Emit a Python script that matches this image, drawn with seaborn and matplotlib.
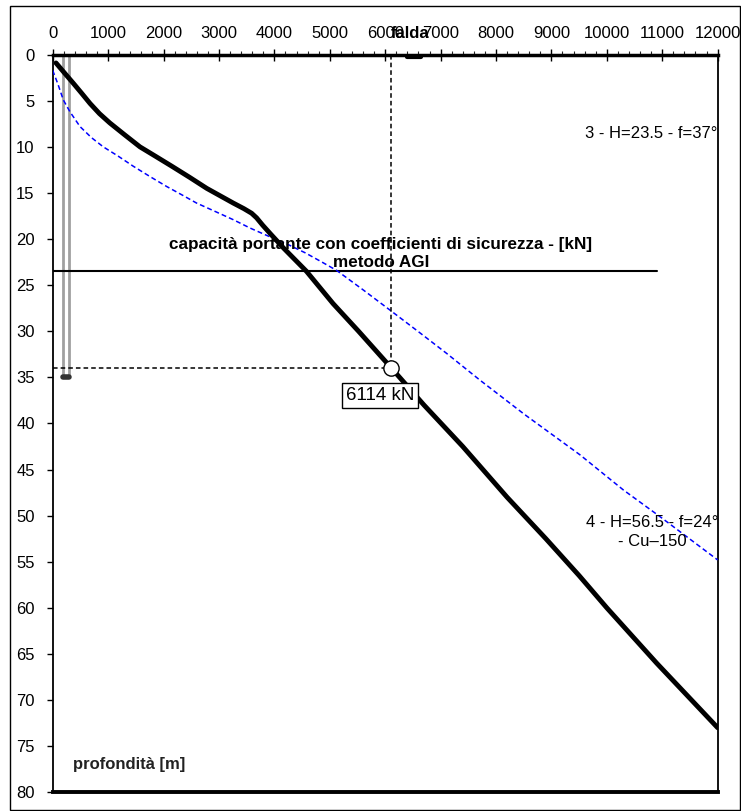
import matplotlib
matplotlib.use("Agg")
import matplotlib.pyplot as plt
from matplotlib.patches import Rectangle
from matplotlib.ticker import MultipleLocator
import seaborn as sns

# Bearing capacity with safety factors (AGI method) versus depth
depth_agi = [0.9, 2, 3.1, 4.2, 5.3, 6.4, 7.4, 8.7, 10, 11, 12.1, 13.3, 14.5, 15.3,
             16.1, 16.7, 17.2, 17.7, 18.5, 19.5, 21, 23.5, 27, 30, 34, 38, 42.5,
             48, 52.5, 56.5, 60, 66, 73]
load_agi = [60, 215, 372, 525, 675, 845, 1030, 1300, 1575, 1850, 2150, 2470, 2780,
            3020, 3260, 3450, 3590, 3680, 3790, 3940, 4170, 4580, 5060, 5520, 6114,
            6700, 7400, 8200, 8900, 9500, 10000, 10900, 12000]

# Second capacity curve (dashed blue)
depth_alt = [1.7, 3.2, 4.9, 6.2, 7.8, 9, 10, 11, 12.1, 13.2, 14.3, 15.2, 16.1, 17,
             17.9, 18.8, 19.6, 20.6, 21.5, 22.5, 23.4, 25.5, 27.7, 30, 32.4, 35.3,
             39, 43.4, 47.2, 50.1, 54.8]
load_alt = [0, 95, 191, 312, 493, 700, 913, 1180, 1454, 1750, 2057, 2330, 2598,
            2930, 3259, 3560, 3861, 4250, 4560, 4860, 5124, 5600, 6086, 6590, 7109,
            7710, 8510, 9515, 10296, 10958, 12000]

x_ticks = list(range(0, 13000, 1000))
y_ticks = list(range(0, 85, 5))

pile_edges = [190, 300]
pile_length = 35
design_depth = 34
design_load = 6114
layer_boundary = 23.5
layer_line_end = 10900
falda_span = [6400, 6650]

sns.set_theme(style="white")
plt.rcParams['font.family'] = ['Liberation Sans', 'DejaVu Sans']
plt.rcParams['text.color'] = 'black'

fig = plt.figure(figsize=(7.41, 8.11), dpi=100)
ax = fig.add_axes([0.0711, 0.0231, 0.8974, 0.9095])

# pile outline
ax.vlines(pile_edges, 0, pile_length, color='#a0a0a0', lw=2, zorder=2)
ax.plot(pile_edges, [pile_length, pile_length], color='#333333', lw=4,
        solid_capstyle='round', zorder=2)

# layer boundary
ax.plot([0, layer_line_end], [layer_boundary, layer_boundary], color='black', lw=1.5, zorder=2)

# capacity curves
sns.lineplot(x=load_alt, y=depth_alt, sort=False, estimator=None, color='#0000ff',
             lw=1.1, ax=ax, zorder=3)
ax.lines[-1].set_dashes((3.2, 2))
sns.lineplot(x=load_agi, y=depth_agi, sort=False, estimator=None, color='black',
             lw=3.5, ax=ax, zorder=4)

# design point guides
ax.plot([design_load, design_load], [0, design_depth], color='black', lw=1.1,
        dashes=(3, 2), zorder=3)
ax.plot([0, design_load], [design_depth, design_depth], color='black', lw=1.1,
        dashes=(3, 2), zorder=3)
ax.plot([design_load], [design_depth], 'o', mfc='white', mec='black', ms=11, mew=1, zorder=6)
ax.text(5906, 37.0, f"{design_load} kN", ha='center', va='center', fontsize=13.5,
        bbox=dict(boxstyle='square,pad=0.22', fc='white', ec='black', lw=1), zorder=7)

# water table marker
ax.plot(falda_span, [0.25, 0.25], color='black', lw=3, clip_on=False, zorder=5)
ax.text(6450, -2.3, 'falda', ha='center', va='center', fontsize=12,
        fontweight='bold', clip_on=False)

ax.text(5920, 21.6, 'capacità portante con coefficienti di sicurezza - [kN]\nmetodo AGI',
        ha='center', va='center', fontsize=12.3, fontweight='bold', linespacing=1.25)
ax.text(12000, 8.5, '3 - H=23.5 - f=37°', ha='right', va='center', fontsize=12)
ax.text(10820, 51.8, '4 - H=56.5 - f=24°\n- Cu–150', ha='center', va='center',
        fontsize=12, linespacing=1.3)
ax.text(370, 77, 'profondità [m]', ha='left', va='center', fontsize=12,
        fontweight='bold', color='#222222')

ax.set_xlim(0, 12000)
ax.set_ylim(80, 0)
ax.xaxis.tick_top()
ax.set_xticks(x_ticks)
ax.set_yticks(y_ticks)
ax.xaxis.set_minor_locator(MultipleLocator(200))
ax.tick_params(axis='x', which='major', direction='inout', length=9, width=1,
               labelsize=12, pad=5, top=True, bottom=False, colors='black')
ax.tick_params(axis='x', which='minor', direction='out', length=3, width=0.8,
               top=True, bottom=False)
ax.tick_params(axis='y', which='major', direction='out', length=4, width=1,
               labelsize=12, pad=9, left=True, colors='black')
ax.set_xlabel('')
ax.set_ylabel('')

for side, lw in [('top', 2.5), ('bottom', 2.8), ('left', 1.3), ('right', 1.3)]:
    ax.spines[side].set_visible(True)
    ax.spines[side].set_color('black')
    ax.spines[side].set_linewidth(lw)

# frame around the whole figure
fig.patches.append(Rectangle((0.0135, 0.0012), 0.985, 0.9914, transform=fig.transFigure,
                             fill=False, ec='black', lw=1))

fig.savefig('out.png', dpi=100)
